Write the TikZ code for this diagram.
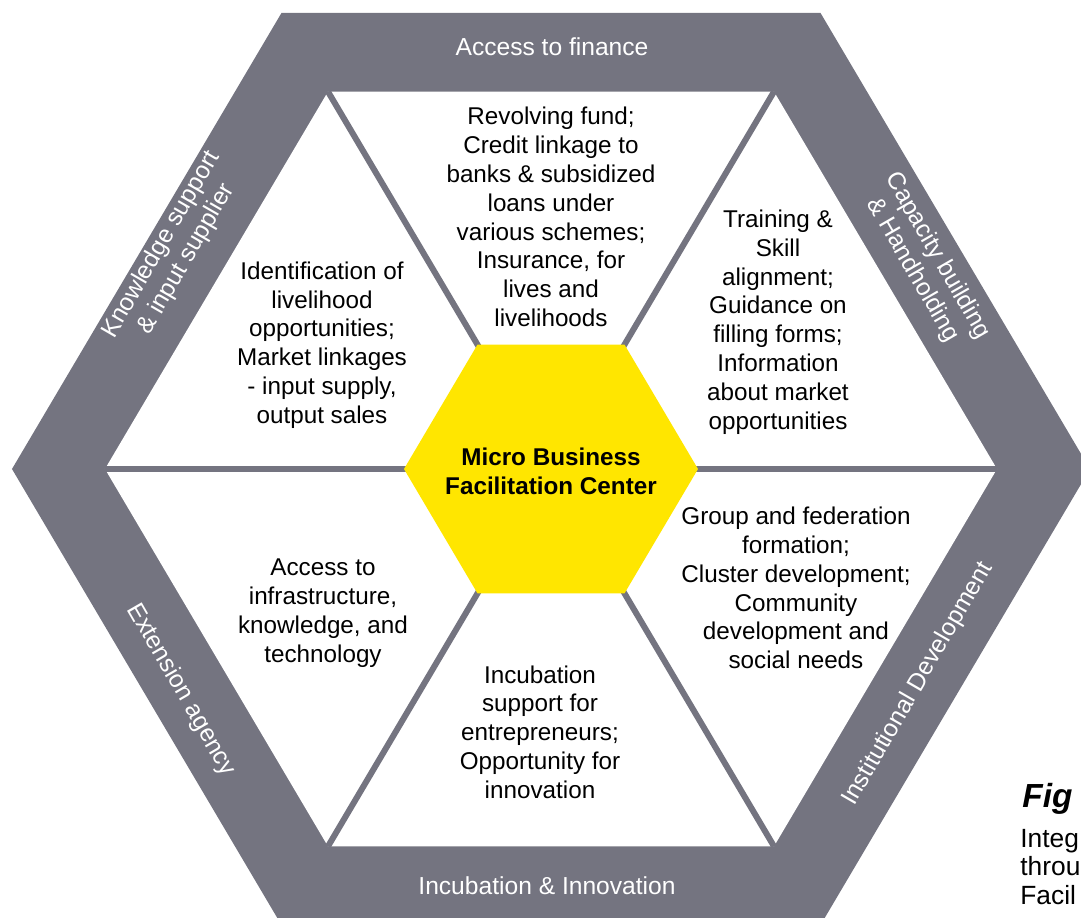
\documentclass[tikz,border=0pt]{standalone}
\usepackage{fontspec}
\setmainfont{Liberation Sans}
\usetikzlibrary{positioning}
\definecolor{hexgray}{HTML}{747480}
\definecolor{mbfcyellow}{HTML}{FFE600}

\begin{document}
\begin{tikzpicture}[
	bandtext/.style={white,align=center,font=\fontsize{14}{16.4}\selectfont},
	celltext/.style={black,align=center,font=\fontsize{13.8}{16.4}\selectfont}]
	\coordinate (C) at (0,0);
	\useasboundingbox (-11.02,-8.98) rectangle (10.60,9.38);
	\clip (-11.02,-8.98) rectangle (10.60,9.38);

	\begin{scope}[yscale=0.977]
	% outer band
	\fill[hexgray] (0:10.78) \foreach \a in {60,120,...,300} { -- (\a:10.78) } -- cycle;
	% inner white area
	\fill[white] (0:8.92) \foreach \a in {60,120,...,300} { -- (\a:8.92) } -- cycle;
	% spokes between the six fields
	\foreach \a in {0,60,120}
		\draw[hexgray,line width=0.12cm] (\a:8.92) -- ({\a+180}:8.92);
	% centre hexagon
	\fill[mbfcyellow] (0:2.94) \foreach \a in {60,120,...,300} { -- (\a:2.94) } -- cycle;
	\end{scope}

	% labels on the band
	\node[bandtext] (finance) at (0.02,8.44) {Access to finance};
	\node[bandtext] (incubation) at (-0.08,-8.34) {Incubation \& Innovation};
	\node[bandtext,rotate=60] (knowledge) at (-7.54,4.34) {Knowledge support\\\& input supplier};
	\node[bandtext,rotate=-60] (capacity) at (7.48,4.12) {Capacity building\\\& Handholding};
	\node[bandtext,rotate=-60] (extension) at (-7.4,-4.42) {Extension agency};
	\node[bandtext,rotate=60] (institution) at (7.34,-4.3) {Institutional Development};

	% centre
	\node[celltext,font=\bfseries\fontsize{13.8}{16.4}\selectfont] (mbfc) at (0,-0.04) {Micro Business\\Facilitation Center};

	% the six fields
	\node[celltext] (fund) at (0,5.04) {Revolving fund;\\Credit linkage to\\banks \& subsidized\\loans under\\various schemes;\\Insurance, for\\lives and\\livelihoods};
	\node[celltext] (market) at (-4.58,2.48) {Identification of\\livelihood\\opportunities;\\Market linkages\\- input supply,\\output sales};
	\node[celltext] (training) at (4.54,2.94) {Training \&\\Skill\\alignment;\\Guidance on\\filling forms;\\Information\\about market\\opportunities};
	\node[celltext] (group) at (4.9,-2.38) {Group and federation\\formation;\\Cluster development;\\Community\\development and\\social needs};
	\node[celltext] (support) at (-0.22,-5.26) {Incubation\\support for\\entrepreneurs;\\Opportunity for\\innovation};
	\node[celltext] (infra) at (-4.56,-2.88) {Access to\\infrastructure,\\knowledge, and\\technology};

	% caption, cut by the page edge
	\node[anchor=west,inner sep=0pt,font=\bfseries\itshape\fontsize{19}{20}\selectfont] (figlabel) at (9.42,-6.6) {Fig};
	\node[anchor=west,inner sep=0pt,align=left,font=\fontsize{15}{16.4}\selectfont] (figtext) at (9.38,-7.96) {Integ\\throu\\Facil};
\end{tikzpicture}
\end{document}
